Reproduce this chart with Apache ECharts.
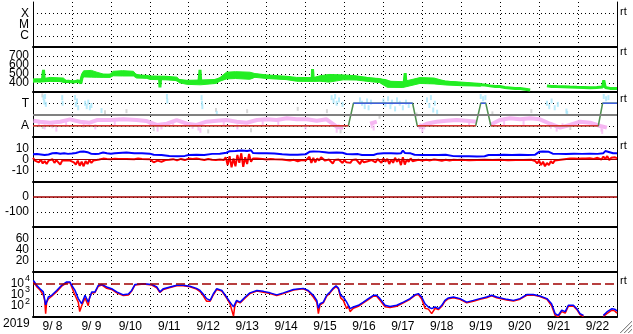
<!DOCTYPE html>
<html><head><meta charset="utf-8">
<script src="https://cdn.jsdelivr.net/npm/echarts@6/dist/echarts.min.js"></script>
<style>html,body{margin:0;padding:0;background:#fff}#c{width:633px;height:334px}</style>
</head><body><div id="c"></div><script>
// ---------- labels ----------
const dayLabels = ['9/ 8','9/ 9','9/10','9/11','9/12','9/13','9/14','9/15','9/16','9/17','9/18','9/19','9/20','9/21','9/22'];
const yearLabel = '2019';
const flareLabels = {1:'C', 2:'M', 3:'X'};
const sectorLabels = {1:'A', 3:'T'};
const rtPanels = [0, 1, 2, 3, 6];

// ---------- panel 2: solar wind speed (days since 9/8 00:00, km/s) ----------
const speed = [[0.01,425],[0.095,430],[0.18,422],[0.24,432],[0.27,545],[0.29,430],[0.39,440],[0.52,432],[0.65,436],[0.78,418],[0.91,420],[1.04,410],[1.16,425],[1.21,420],[1.23,398],[1.27,480],[1.37,500],[1.5,505],[1.64,490],[1.76,478],[1.89,480],[2.02,490],[2.15,505],[2.32,508],[2.49,505],[2.62,490],[2.75,475],[2.88,468],[3.01,462],[3.14,458],[3.25,460],[3.26,350],[3.28,455],[3.39,455],[3.52,448],[3.65,440],[3.78,422],[3.9,415],[4.03,405],[4.16,402],[4.26,410],[4.29,545],[4.31,410],[4.46,412],[4.59,418],[4.72,435],[4.85,450],[4.97,470],[5.1,482],[5.23,490],[5.4,488],[5.53,480],[5.61,465],[5.75,485],[5.92,478],[6.09,470],[6.26,462],[6.43,455],[6.6,452],[6.77,440],[6.94,436],[7.11,438],[7.17,440],[7.18,555],[7.2,440],[7.33,442],[7.5,455],[7.63,465],[7.76,470],[7.89,468],[8.01,462],[8.14,468],[8.27,460],[8.4,455],[8.53,452],[8.66,448],[8.79,440],[8.91,432],[9.04,428],[9.17,410],[9.3,395],[9.43,392],[9.53,395],[9.56,510],[9.58,395],[9.68,390],[9.81,405],[9.94,430],[10.07,435],[10.2,428],[10.33,420],[10.46,418],[10.58,410],[10.71,405],[10.84,400],[10.97,392],[11.1,390],[11.22,385],[11.35,382],[11.48,380],[11.61,378],[11.74,368],[11.87,362],[11.99,360],[12.12,350],[12.25,345],[12.38,340],[12.51,338],[12.64,330],[12.77,322],[12.85,null],[13.2,368],[13.32,362],[13.45,360],[13.62,358],[13.79,355],[13.97,352],[14.14,350],[14.31,348],[14.48,350],[14.63,355],[14.66,430],[14.7,350],[14.82,340],[14.95,338],[15.0,338]];
// spread of the noisy speed band: time, lowest, highest
const speedBandT  = [0.0,0.25,0.44,0.78,0.86,1.2,1.25,1.3,1.5,1.64,1.8,1.98,2.06,2.3,2.58,2.66,2.92,3.0,3.4,3.7,3.75,3.95,4.3,4.7,4.8,4.97,5.2,5.57,5.7,6.0,6.5,6.77,7.2,7.37,7.6,7.97,8.3,8.66,8.9,9.1,9.5,9.94,10.3,10.6,11.0,11.5];
const speedBandLo = [410,412,418,415,405,404,440,468,465,463,463,462,480,478,478,455,452,440,435,430,404,385,380,395,420,445,450,441,463,450,438,420,418,420,410,435,433,415,405,352,350,395,390,378,370,365];
const speedBandHi = [445,448,462,455,425,422,500,535,540,520,500,498,530,537,530,490,485,478,475,465,440,430,433,440,460,520,526,520,505,490,475,462,460,480,495,490,480,455,450,420,415,460,455,420,410,395];

// ---------- panel 3: sector (A=1, T=3) ----------
const stateT = [0, 8.10, 8.23, 9.75, 9.87, 11.37, 11.50, 11.63, 11.76, 14.52, 14.63, 15];
const stateV = [1, 1, 3, 3, 1, 1, 3, 3, 1, 1, 3, 3];
const pinkBand = [[0.01,1.45],[0.18,1.36],[0.44,1.27],[0.7,1.36],[0.95,1.57],[1.21,1.36],[1.46,1.27],[1.64,1.51],[1.98,1.51],[2.32,1.57],[2.66,1.51],[2.92,1.42],[3.18,1.07],[3.44,1.18],[3.69,1.51],[3.95,1.18],[4.2,1.07],[4.46,1.36],[4.72,1.45],[4.97,1.51],[5.23,1.36],[5.49,1.27],[5.75,1.51],[6.0,1.57],[6.26,1.51],[6.52,1.66],[6.77,1.57],[7.03,1.57],[7.29,1.45],[7.54,1.57],[7.8,0.92],[7.97,0.83],[8.05,null],[8.66,1.18],[8.83,1.36],[8.9,null],[9.9,0.83],[10.11,1.18],[10.37,1.36],[10.62,1.45],[10.88,1.51],[11.14,1.45],[11.4,1.36],[11.45,null],[11.74,1.07],[11.99,1.51],[12.25,1.66],[12.51,1.57],[12.77,1.66],[13.02,1.57],[13.28,1.18],[13.54,0.83],[13.79,1.07],[14.05,1.36],[14.31,1.27],[14.57,0.98],[14.74,0.83]];
const pinkDots = [[0.3,0.9],[0.5,1.0],[0.6,0.7],[1.6,0.9],[3.2,0.7],[3.3,0.9],[4.25,0.8],[4.3,0.6],[5.25,0.9],[7.0,0.9],[7.8,0.6],[7.85,0.9],[8.7,1.0],[8.75,0.8],[10.0,0.6],[10.05,0.9],[13.45,0.7],[13.6,1.0],[14.6,0.7],[14.62,0.5],[2.1,1.2],[5.9,1.3],[12.1,1.25],[9.95,1.0],[0.15,1.1],[0.85,1.15],[1.3,1.05],[3.0,1.2],[3.6,1.25],[4.1,0.95],[4.9,1.2],[6.3,1.3],[11.2,1.2],[12.6,1.3],[13.3,0.95]];
const cyanDots = [[0.27,3.5],[0.29,3.1],[0.31,3.6],[0.33,2.9],[0.75,3.5],[0.76,3.0],[1.08,3.5],[1.1,2.9],[1.13,3.2],[1.16,2.6],[1.34,3.0],[1.38,2.7],[1.42,3.1],[1.46,2.6],[1.5,2.8],[1.76,2.35],[3.44,3.6],[3.45,3.2],[4.33,3.5],[4.34,3.0],[4.35,2.7],[4.72,2.1],[7.67,3.5],[7.72,3.2],[7.76,3.6],[7.8,3.0],[7.86,3.3],[7.95,2.9],[8.4,3.3],[8.45,3.0],[8.52,2.7],[8.58,3.2],[8.62,2.6],[8.68,3.1],[9.0,3.2],[9.05,2.9],[9.12,3.4],[9.18,2.7],[9.22,3.1],[9.3,2.5],[9.35,3.3],[9.42,3.0],[9.5,2.6],[9.58,3.1],[9.65,2.8],[10.12,3.3],[10.18,2.8],[10.22,3.5],[10.28,2.4],[10.32,3.0],[10.38,2.2],[11.5,3.6],[11.56,3.4],[11.62,3.5],[13.2,3.0],[13.26,2.7],[13.32,3.2],[13.4,2.6],[13.48,2.9],[13.7,2.3],[13.72,2.1],[14.66,3.6],[14.72,3.4],[14.78,3.5]];
const grayDots = [[0.24,3.7],[1.85,2.2],[2.4,2.3],[4.7,2.4],[5.5,2.3],[6.8,2.5],[3.1,0.7],[4.5,0.5],[5.6,0.6],[0.25,0.9],[7.55,2.3],[7.9,0.5],[8.9,1.8],[9.85,2.0],[11.8,2.1],[12.8,2.3],[13.8,0.8]];

// ---------- panel 4: IMF Bt (blue) and Bz (red), nT ----------
const bt = [[0,4.6],[0.1,4.8],[0.2,4.4],[0.3,4.0],[0.4,4.5],[0.5,5.5],[0.6,5.8],[0.7,5.2],[0.8,5.6],[0.9,5.0],[1.0,5.3],[1.1,5.8],[1.2,6.8],[1.3,7.2],[1.4,6.5],[1.5,5.0],[1.6,4.8],[1.7,5.2],[1.8,6.2],[1.9,5.5],[2.0,5.2],[2.1,5.6],[2.2,5.8],[2.4,6.2],[2.6,5.5],[2.8,5.6],[3.0,5.2],[3.1,4.2],[3.3,4.0],[3.5,3.2],[3.7,2.9],[3.9,3.2],[4.0,4.0],[4.2,4.3],[4.4,4.0],[4.6,5.0],[4.8,5.2],[4.97,6.0],[5.05,7.4],[5.2,7.6],[5.35,8.0],[5.5,7.6],[5.6,8.2],[5.65,5.8],[5.8,5.5],[6.0,5.6],[6.2,5.3],[6.4,4.6],[6.6,4.2],[6.8,4.3],[7.0,4.6],[7.1,6.8],[7.2,7.2],[7.35,7.0],[7.5,6.5],[7.6,6.0],[7.8,6.2],[7.95,6.0],[8.05,4.9],[8.2,4.6],[8.35,4.8],[8.45,4.0],[8.6,4.1],[8.75,4.0],[8.85,5.2],[9.0,5.5],[9.2,5.6],[9.35,5.4],[9.45,5.5],[9.5,8.0],[9.55,5.8],[9.7,5.5],[9.8,4.2],[10.0,4.0],[10.2,4.1],[10.4,4.0],[10.6,4.2],[10.8,3.0],[11.0,2.8],[11.2,2.8],[11.4,2.7],[11.6,2.9],[11.7,4.0],[11.9,4.1],[12.1,4.2],[12.3,4.0],[12.5,4.2],[12.7,4.1],[12.9,4.3],[13.0,6.8],[13.1,7.2],[13.25,6.8],[13.35,5.2],[13.5,5.0],[13.7,4.9],[13.9,5.1],[14.1,5.0],[14.3,5.2],[14.5,5.0],[14.65,5.6],[14.7,7.5],[14.75,5.8],[14.9,5.5],[15.0,5.6]];
const bz = [[0,1.5],[0.05,-1.0],[0.1,0.5],[0.15,-2.5],[0.2,0.0],[0.25,-3.5],[0.3,-1.5],[0.35,-4.0],[0.4,-1.0],[0.45,-2.0],[0.5,0.2],[0.55,-3.0],[0.6,-0.5],[0.65,-1.5],[0.7,-4.5],[0.75,-1.0],[0.8,-0.5],[0.85,-0.8],[0.9,-0.2],[0.95,-1.0],[1.0,-0.5],[1.05,-2.5],[1.1,-4.5],[1.15,-1.0],[1.2,-5.5],[1.25,-2.0],[1.3,-6.0],[1.35,-1.5],[1.4,-4.0],[1.45,-0.5],[1.5,-3.0],[1.55,-1.0],[1.6,0.5],[1.7,0.0],[1.8,0.8],[1.9,0.5],[2.0,0.3],[2.1,0.6],[2.2,0.4],[2.4,0.5],[2.6,0.2],[2.7,0.8],[2.8,0.5],[3.0,0.2],[3.05,-1.5],[3.1,-2.5],[3.2,-1.0],[3.3,-2.0],[3.4,-0.5],[3.5,-0.2],[3.6,0.3],[3.7,-0.8],[3.8,0.5],[3.9,-0.5],[4.0,0.8],[4.1,0.5],[4.2,1.0],[4.3,0.2],[4.4,-0.5],[4.5,0.5],[4.6,-0.3],[4.7,-0.5],[4.8,0.0],[4.9,-0.5],[4.95,2.0],[5.0,-5.0],[5.05,3.0],[5.1,-7.0],[5.15,1.0],[5.2,-6.0],[5.25,4.0],[5.3,-3.0],[5.35,5.5],[5.4,-6.5],[5.45,2.0],[5.5,-4.0],[5.55,5.0],[5.6,-2.0],[5.65,1.0],[5.75,0.8],[5.9,0.5],[6.0,0.0],[6.1,0.5],[6.2,0.2],[6.4,0.0],[6.5,-0.5],[6.6,-0.8],[6.7,-0.3],[6.8,-1.5],[6.9,-0.5],[7.0,-1.0],[7.1,2.5],[7.15,-3.0],[7.2,1.5],[7.25,-2.5],[7.3,1.0],[7.35,-1.0],[7.4,2.0],[7.5,-1.0],[7.55,-2.5],[7.6,0.0],[7.65,-1.5],[7.7,-3.5],[7.75,-0.5],[7.8,-2.0],[7.85,0.0],[7.9,-1.0],[7.95,-3.0],[8.0,-0.5],[8.05,-2.5],[8.1,-1.0],[8.15,-3.0],[8.2,-0.5],[8.25,-2.0],[8.3,0.0],[8.35,-1.5],[8.4,-4.0],[8.45,-0.5],[8.5,-2.5],[8.55,-0.8],[8.6,-1.5],[8.7,-0.5],[8.8,-2.5],[8.85,0.5],[8.9,-1.0],[8.95,-3.0],[9.0,1.0],[9.05,-2.0],[9.1,0.5],[9.15,-4.0],[9.2,0.0],[9.25,-3.0],[9.3,1.5],[9.35,-2.0],[9.4,0.5],[9.45,-5.0],[9.5,2.0],[9.55,-4.5],[9.6,0.0],[9.65,-2.0],[9.7,1.0],[9.75,-1.5],[9.8,-0.5],[9.9,-0.3],[10.0,-1.0],[10.1,-0.2],[10.2,-0.8],[10.3,0.0],[10.4,-0.5],[10.5,-1.2],[10.6,-0.3],[10.7,-0.8],[10.8,-0.2],[10.9,-0.5],[11.0,-0.3],[11.2,-0.6],[11.4,-0.4],[11.6,-0.2],[11.8,-0.5],[12.0,-0.3],[12.2,-0.6],[12.4,-0.4],[12.6,-0.5],[12.8,-0.2],[12.9,-1.5],[12.95,-3.5],[13.0,-1.0],[13.05,-5.0],[13.1,-2.0],[13.15,-6.0],[13.2,-3.0],[13.25,-5.0],[13.3,-1.5],[13.35,-3.5],[13.4,-1.0],[13.45,-2.5],[13.5,-0.5],[13.6,0.0],[13.7,0.5],[13.8,0.8],[13.9,1.0],[14.0,0.6],[14.1,1.0],[14.2,0.8],[14.3,1.2],[14.4,0.5],[14.5,1.5],[14.6,0.0],[14.65,2.5],[14.7,0.5],[14.75,3.0],[14.8,-0.5],[14.85,1.5],[14.9,0.0],[14.95,2.0],[15.0,1.0]];

// ---------- panel 7: electron flux (log) ----------
const fluxBlue = [[0.01,18000],[0.095,6600],[0.18,3300],[0.265,1700],[0.325,120],[0.394,600],[0.48,850],[0.608,2300],[0.736,6600],[0.865,13000],[0.95,13000],[0.993,6600],[1.08,2300],[1.164,430],[1.25,150],[1.336,850],[1.42,210],[1.507,1700],[1.593,1700],[1.678,6600],[1.764,7900],[1.892,4700],[2.02,3300],[2.15,1700],[2.32,930],[2.45,1100],[2.535,2300],[2.62,7900],[2.835,9100],[3.05,7900],[3.18,4700],[3.26,1700],[3.35,3300],[3.52,4700],[3.69,6600],[3.86,6600],[4.03,5400],[4.2,3500],[4.29,2300],[4.37,1100],[4.46,430],[4.55,300],[4.63,1100],[4.72,3300],[4.85,2300],[4.97,600],[5.06,210],[5.15,80],[5.23,300],[5.32,210],[5.45,600],[5.57,1400],[5.75,2300],[5.92,1900],[6.09,1400],[6.26,930],[6.43,1400],[6.69,2800],[6.94,3500],[7.07,2300],[7.2,850],[7.29,300],[7.33,60],[7.372,150],[7.457,210],[7.543,850],[7.629,1700],[7.714,3800],[7.783,5800],[7.843,3800],[7.903,850],[7.971,600],[8.057,210],[8.143,55],[8.228,78],[8.356,110],[8.485,210],[8.613,430],[8.742,850],[8.828,850],[8.913,430],[9.042,110],[9.17,87],[9.342,110],[9.513,210],[9.684,430],[9.813,980],[9.898,1200],[9.984,600],[10.07,150],[10.155,78],[10.24,55],[10.33,78],[10.41,55],[10.5,110],[10.58,300],[10.67,490],[10.8,600],[10.97,430],[11.14,210],[11.31,300],[11.48,430],[11.65,600],[11.78,850],[11.91,600],[12.17,370],[12.34,300],[12.51,430],[12.68,980],[12.85,980],[13.02,740],[13.2,430],[13.32,150],[13.41,20],[13.49,14],[13.58,40],[13.67,30],[13.75,110],[13.88,110],[13.97,55],[14.05,20],[14.14,14],[14.2,null],[14.65,14],[14.74,28],[14.87,55],[14.94,50],[15.0,35]];
const fluxRed = [[0.01,14000],[0.095,5000],[0.18,2500],[0.265,900],[0.3,300],[0.325,20],[0.35,200],[0.394,400],[0.48,700],[0.608,1800],[0.736,5500],[0.865,11000],[0.95,11000],[0.993,5000],[1.05,1500],[1.1,600],[1.164,200],[1.2,30],[1.25,100],[1.336,500],[1.42,100],[1.45,500],[1.507,1300],[1.593,1500],[1.678,5500],[1.764,7000],[1.892,3500],[2.02,2800],[2.15,1400],[2.32,800],[2.45,900],[2.535,2000],[2.62,7000],[2.835,8500],[3.05,7000],[3.18,4000],[3.26,1500],[3.35,2800],[3.52,4200],[3.69,6000],[3.86,6000],[4.03,4800],[4.2,3000],[4.29,1800],[4.37,800],[4.46,250],[4.55,250],[4.63,900],[4.72,2800],[4.85,2000],[4.97,500],[5.06,150],[5.15,12],[5.18,80],[5.23,250],[5.32,180],[5.45,500],[5.57,1200],[5.75,2000],[5.92,1600],[6.09,1200],[6.26,800],[6.43,1200],[6.69,2500],[6.94,3200],[7.07,2000],[7.2,600],[7.29,200],[7.33,20],[7.372,120],[7.457,180],[7.543,700],[7.629,1400],[7.714,3200],[7.783,5000],[7.843,3200],[7.903,500],[7.971,300],[8.057,55],[8.1,100],[8.143,30],[8.228,60],[8.356,90],[8.485,180],[8.613,350],[8.742,700],[8.828,700],[8.913,300],[9.042,80],[9.17,70],[9.342,90],[9.513,180],[9.684,380],[9.813,850],[9.898,1000],[9.984,400],[10.07,60],[10.155,50],[10.24,20],[10.33,60],[10.41,45],[10.5,90],[10.58,250],[10.67,420],[10.8,520],[10.97,380],[11.14,180],[11.31,250],[11.48,380],[11.65,520],[11.78,750],[11.91,520],[12.17,320],[12.34,260],[12.51,380],[12.68,850],[12.85,880],[13.02,650],[13.2,380],[13.32,100],[13.41,14],[13.49,11],[13.58,30],[13.67,22],[13.75,90],[13.88,95],[13.97,45],[14.05,16],[14.14,11],[14.2,null],[14.65,11],[14.74,20],[14.87,40],[14.94,35],[15.0,22]];
const fluxThreshold = 10000;

// ---------- build ----------
const FONT = '"Liberation Sans", Arial, sans-serif';
const tops = [2, 47, 92, 137, 182, 227, 272];
const PH = 45;
const DOT = [1, 3];
const GREEN = '#22ee22';

const grids = tops.map(t => ({left: 33, right: 16, top: t, height: PH}));

const xAxes = tops.map((t, i) => ({
  gridIndex: i, type: 'value', min: 0, max: 15, interval: 1, position: 'bottom',
  axisLabel: {show: false}, axisTick: {show: false},
  axisLine: {show: true, onZero: false, lineStyle: {color: '#000', width: 2}},
  splitLine: {show: true, lineStyle: {color: '#000', type: DOT, width: 1}}
}));
xAxes.push({
  gridIndex: 6, type: 'category', position: 'bottom', data: dayLabels, boundaryGap: true,
  axisLine: {show: false}, axisTick: {show: false}, splitLine: {show: false},
  axisLabel: {show: true, interval: 0, margin: 4, fontSize: 12, color: '#000', fontFamily: FONT}
});

const yDefs = [
  {min: 0, max: 4, interval: 1, fmt: v => flareLabels[v] || '', noMax: true},
  {min: 300, max: 800, interval: 100, fmt: v => (v >= 400 && v <= 700) ? String(v) : ''},
  {min: 0, max: 4, interval: 1, fmt: v => sectorLabels[v] || ''},
  {min: -20, max: 20, interval: 10, fmt: v => Math.abs(v) <= 10 ? String(v) : ''},
  {min: -200, max: 100, interval: 100, fmt: v => (v === 0 || v === -100) ? String(v) : ''},
  {min: 0, max: 80, interval: 20, fmt: v => (v >= 20 && v <= 60) ? String(v) : ''},
  {log: true, min: 10, max: 100000}
];
const yAxes = [];
yDefs.forEach((d, i) => {
  const base = d.log ? {type: 'log', logBase: 10, min: d.min, max: d.max} :
                       {type: 'value', min: d.min, max: d.max, interval: d.interval};
  const left = Object.assign({}, base, {
    gridIndex: i, position: 'left',
    axisLine: {show: true, onZero: false, lineStyle: {color: '#000', width: 1}},
    axisTick: {show: false},
    splitLine: {show: true, showMaxLine: !d.noMax,
      lineStyle: {color: d.log ? ['#000','#000','#000','rgba(0,0,0,0)','#000'] : '#000', type: DOT, width: 1}},
    axisLabel: d.log ? {
      show: true, margin: 3, color: '#000', fontFamily: FONT,
      formatter: v => { const e = Math.round(Math.log10(v)); return (e >= 2 && e <= 4) ? '{b|10}{s|' + e + '}' : ''; },
      rich: {b: {fontSize: 12, fontFamily: FONT, color: '#000', padding: [5, 0, 5, 0]},
             s: {fontSize: 9, fontFamily: FONT, color: '#000', verticalAlign: 'top', padding: [2, 0, 0, 1]}}
    } : {show: true, margin: 4, fontSize: 12, color: '#000', fontFamily: FONT, formatter: d.fmt}
  });
  const right = Object.assign({}, base, {
    gridIndex: i, position: 'right',
    axisLine: {show: true, onZero: false, lineStyle: {color: '#000', width: 1}},
    axisTick: {show: false}, axisLabel: {show: false}, splitLine: {show: false}
  });
  yAxes.push(left, right);
});

function hline(value, color, type, width) {
  return {silent: true, symbol: ['none', 'none'], label: {show: false},
    lineStyle: {color: color, type: type || 'solid', width: width || 1},
    emphasis: {disabled: true}, data: [{yAxis: value}]};
}

// sector segments
const greenStep = stateT.map((t, i) => [t, stateV[i]]);
function segs(level) {
  const out = [];
  for (let i = 0; i < stateT.length - 1; i++) {
    if (stateV[i] === level && stateV[i + 1] === level) {
      out.push([stateT[i], level], [stateT[i + 1], level], [stateT[i + 1], null]);
    }
  }
  return out;
}
const bandData = speedBandT.map((t, i) => [t, speedBandLo[i], speedBandHi[i]]);

const series = [
  // panel 2: noisy band (polygon through the axis scales) + trace
  {type: 'custom', xAxisIndex: 1, yAxisIndex: 2, data: bandData, animation: false, silent: true,
   clip: true,
   renderItem: function (params, api) {
     if (params.dataIndex !== 0) return null;
     const up = bandData.map(d => api.coord([d[0], d[2]]));
     const dn = bandData.map(d => api.coord([d[0], d[1]])).reverse();
     return {type: 'polygon', shape: {points: up.concat(dn)}, style: {fill: GREEN, stroke: GREEN, lineWidth: 1}};
   }},
  {type: 'line', xAxisIndex: 1, yAxisIndex: 2, data: speed, showSymbol: false, connectNulls: false,
   lineStyle: {color: GREEN, width: 3}, animation: false},
  // panel 3
  {type: 'scatter', xAxisIndex: 2, yAxisIndex: 4, data: grayDots, symbol: 'rect', symbolSize: [2, 4],
   itemStyle: {color: '#cccccc'}, animation: false},
  {type: 'scatter', xAxisIndex: 2, yAxisIndex: 4, data: pinkDots, symbol: 'rect', symbolSize: [2, 5],
   itemStyle: {color: '#f6b6f2'}, animation: false},
  {type: 'scatter', xAxisIndex: 2, yAxisIndex: 4, data: cyanDots, symbol: 'rect', symbolSize: [2, 5],
   itemStyle: {color: '#a8e6fa'}, animation: false},
  {type: 'line', xAxisIndex: 2, yAxisIndex: 4, data: pinkBand, showSymbol: false, connectNulls: false,
   lineStyle: {color: '#f6b6f2', width: 4}, animation: false,
   markLine: hline(2, '#808080', 'solid', 2)},
  {type: 'line', xAxisIndex: 2, yAxisIndex: 4, data: greenStep, showSymbol: false,
   lineStyle: {color: '#4f8f4f', width: 1.5}, animation: false},
  {type: 'line', xAxisIndex: 2, yAxisIndex: 4, data: segs(1), showSymbol: false, connectNulls: false,
   lineStyle: {color: '#d93030', width: 1.5}, animation: false},
  {type: 'line', xAxisIndex: 2, yAxisIndex: 4, data: segs(3), showSymbol: false, connectNulls: false,
   lineStyle: {color: '#4060e0', width: 1.5}, animation: false},
  // panel 4
  {type: 'line', xAxisIndex: 3, yAxisIndex: 6, data: [], showSymbol: false, animation: false,
   markLine: hline(0, '#a00000', 'solid', 1)},
  {type: 'line', xAxisIndex: 3, yAxisIndex: 6, data: bt, showSymbol: false,
   lineStyle: {color: '#0000ff', width: 2}, animation: false},
  {type: 'line', xAxisIndex: 3, yAxisIndex: 6, data: bz, showSymbol: false,
   lineStyle: {color: '#ff0000', width: 2}, animation: false},
  // panel 5
  {type: 'line', xAxisIndex: 4, yAxisIndex: 8, data: [], showSymbol: false, animation: false,
   markLine: hline(0, '#a00000', 'solid', 1.5)},
  // panel 7
  {type: 'line', xAxisIndex: 6, yAxisIndex: 12, data: [], showSymbol: false, animation: false,
   markLine: hline(fluxThreshold, '#a00000', [9, 4], 1.5)},
  {type: 'line', xAxisIndex: 6, yAxisIndex: 12, data: fluxRed, showSymbol: false, connectNulls: false,
   lineStyle: {color: '#ff0000', width: 1.5}, animation: false},
  {type: 'line', xAxisIndex: 6, yAxisIndex: 12, data: fluxBlue, showSymbol: false, connectNulls: false,
   lineStyle: {color: '#0000ff', width: 1.5}, animation: false}
];

const rtY = [13, 53, 100, 147, 0, 0, 282];
const graphics = [
  {type: 'text', left: 3, top: 318, style: {text: yearLabel, fontSize: 12, fontFamily: FONT, fill: '#000'}}
];
rtPanels.forEach(p => graphics.push({type: 'text', left: 620, top: rtY[p] - 7,
  style: {text: 'rt', fontSize: 11, fontFamily: FONT, fill: '#000'}}));
// resize grip in the corner
[[620, 333, 632, 321], [624, 333, 632, 325], [628, 333, 632, 329]].forEach(s => {
  graphics.push({type: 'line', shape: {x1: s[0], y1: s[1], x2: s[2], y2: s[3]}, style: {stroke: '#888', lineWidth: 1}});
  graphics.push({type: 'line', shape: {x1: s[0] + 1, y1: s[1], x2: s[2], y2: s[3] + 1}, style: {stroke: '#ddd', lineWidth: 1}});
});

const chart = echarts.init(document.getElementById('c'), null, {renderer: 'canvas'});
chart.setOption({
  animation: false,
  backgroundColor: '#fff',
  grid: grids, xAxis: xAxes, yAxis: yAxes, series: series, graphic: graphics,
  tooltip: {show: false}
});
</script></body></html>
